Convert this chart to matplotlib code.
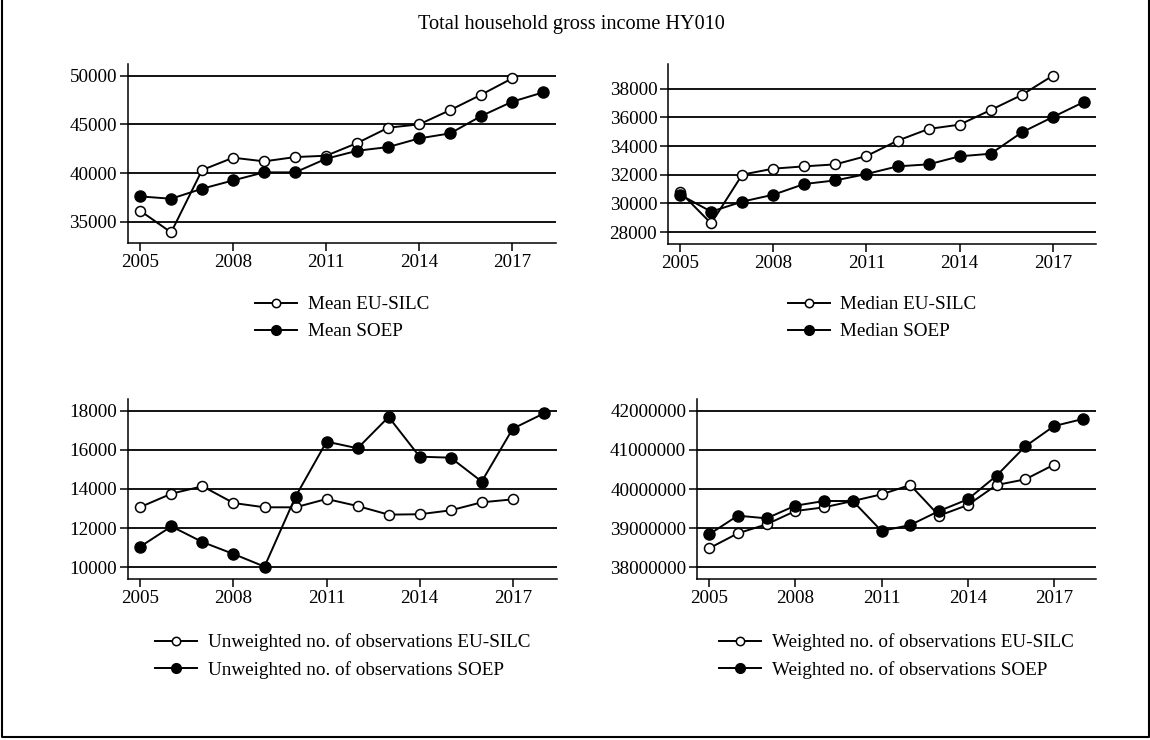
import matplotlib
matplotlib.use("Agg")
import matplotlib.pyplot as plt
from matplotlib.lines import Line2D

plt.rcParams['font.family'] = ['Liberation Serif', 'DejaVu Serif']

years = list(range(2005, 2019))
years_eu = list(range(2005, 2018))

mean_eu = [36130, 33900, 40310, 41575, 41200, 41640, 41780, 43080, 44660, 45000, 46470, 48050, 49730]
mean_soep = [37600, 37360, 38390, 39245, 40070, 40070, 41470, 42290, 42670, 43560, 44075, 45860, 47330, 48290]

median_eu = [30790, 28600, 32000, 32420, 32580, 32720, 33300, 34370, 35190, 35490, 36510, 37560, 38910]
median_soep = [30600, 29420, 30120, 30600, 31350, 31600, 32045, 32580, 32720, 33280, 33460, 34950, 36020, 37070]

unw_eu = [13080, 13760, 14140, 13285, 13065, 13065, 13490, 13130, 12690, 12710, 12910, 13320, 13470]
unw_soep = [11060, 12090, 11290, 10680, 10035, 13610, 16420, 16080, 17680, 15650, 15600, 14380, 17080, 17860]

w_eu = [38485000, 38868000, 39098000, 39438000, 39532000, 39694000, 39864000, 40102000,
        39319000, 39591000, 40102000, 40247000, 40621000]
w_soep = [38842000, 39319000, 39251000, 39574000, 39694000, 39694000, 38928000, 39081000,
          39438000, 39736000, 40340000, 41089000, 41608000, 41787000]

xticks = [2005, 2008, 2011, 2014, 2017]
title = "Total household gross income HY010"

W, H = 1150, 740
fig = plt.figure(figsize=(W / 100, H / 100), dpi=100)
fig.patch.set_facecolor('white')

def fx(px):
    return px / W

def fy(py):
    return 1 - py / H

panels = [
    dict(box=(128, 64, 556, 243), eu=mean_eu, soep=mean_soep,
         yt=[35000, 40000, 45000, 50000], ylim=(32813, 51201), xlim=(2004.61, 2018.41),
         lab=("Mean EU-SILC", "Mean SOEP"), leg_y=318),
    dict(box=(668.3, 64, 1095.7, 244), eu=median_eu, soep=median_soep,
         yt=[28000, 30000, 32000, 34000, 36000, 38000], ylim=(27163, 39721), xlim=(2004.62, 2018.38),
         lab=("Median EU-SILC", "Median SOEP"), leg_y=318),
    dict(box=(128.3, 399, 556.5, 579.3), eu=unw_eu, soep=unw_soep,
         yt=[10000, 12000, 14000, 16000, 18000], ylim=(9387, 18597), xlim=(2004.61, 2018.41),
         lab=("Unweighted no. of observations EU-SILC", "Unweighted no. of observations SOEP"), leg_y=656),
    dict(box=(697.3, 399, 1095.7, 579.3), eu=w_eu, soep=w_soep,
         yt=[38000000, 39000000, 40000000, 41000000, 42000000], ylim=(37694000, 42299000),
         xlim=(2004.59, 2018.45),
         lab=("Weighted no. of observations EU-SILC", "Weighted no. of observations SOEP"), leg_y=656),
]

FS = 13.8
for p in panels:
    x0, y0, x1, y1 = p['box']
    ax = fig.add_axes([fx(x0), fy(y1), fx(x1 - x0), (y1 - y0) / H])
    for yv in p['yt']:
        ax.axhline(yv, color='black', lw=1.3, zorder=1)
    ax.plot(years_eu, p['eu'], color='black', lw=1.4, marker='o', ms=7.2,
            mfc='white', mec='black', mew=1.1, zorder=3)
    ax.plot(years, p['soep'], color='black', lw=1.4, marker='o', ms=8,
            mfc='black', mec='black', zorder=3)
    ax.set_xlim(*p['xlim'])
    ax.set_ylim(*p['ylim'])
    ax.set_xticks(xticks)
    ax.set_xticklabels([str(v) for v in xticks], fontsize=FS)
    ax.set_yticks(p['yt'])
    ax.set_yticklabels([str(v) for v in p['yt']], fontsize=FS)
    for s in ['top', 'right']:
        ax.spines[s].set_visible(False)
    for s in ['left', 'bottom']:
        ax.spines[s].set_linewidth(1.1)
    ax.tick_params(axis='both', length=6, width=1.1, color='black', pad=2)
    ax.patch.set_alpha(0)
    handles = [
        Line2D([], [], color='black', lw=1.4, marker='o', ms=6, mfc='white', mec='black', mew=1.1),
        Line2D([], [], color='black', lw=1.4, marker='o', ms=7, mfc='black', mec='black'),
    ]
    cx = (x0 + x1) / 2
    fig.legend(handles, p['lab'], loc='center', bbox_to_anchor=(fx(cx), fy(p['leg_y'])),
               frameon=False, fontsize=FS, handlelength=2.2, handletextpad=0.55,
               labelspacing=0.5, borderpad=0)

fig.text(fx(571), fy(24), title, ha='center', va='center', fontsize=14.6)

# outer border (left, bottom, right)
fig.add_artist(Line2D([fx(1.5), fx(1.5), fx(1148.5), fx(1148.5)],
                      [1.0, fy(737), fy(737), 1.0], color='black', lw=1.5,
                      transform=fig.transFigure))

fig.savefig("out.png", dpi=100, facecolor='white')
